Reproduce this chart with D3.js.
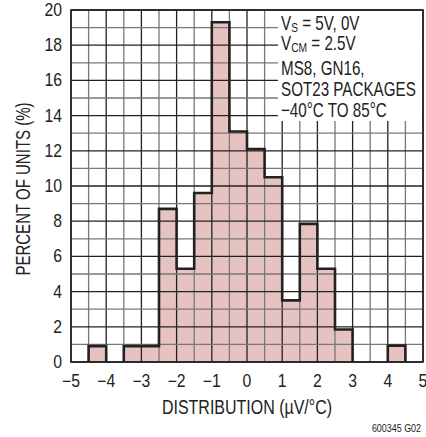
<!DOCTYPE html>
<html><head><meta charset="utf-8">
<script src="https://cdn.jsdelivr.net/npm/d3@7"></script>
<style>body{margin:0;background:#fff}svg{display:block}text{font-family:"Liberation Sans",Arial,sans-serif;fill:#222}</style>
</head><body>
<script>
const binStarts = [-5,-4.5,-4,-3.5,-3,-2.5,-2,-1.5,-1,-0.5,0,0.5,1,1.5,2,2.5,3,3.5,4,4.5];
const percents  = [0,0.9,0,0.9,0.9,8.7,5.3,9.6,19.3,13.1,12.1,10.5,3.5,7.85,5.3,1.85,0,0,0.93,0];
const xTicks = [-5,-4,-3,-2,-1,0,1,2,3,4,5];
const yTicks = [0,2,4,6,8,10,12,14,16,18,20];
const binWidth = 0.5;

const W=426,H=437;
const L=71,R=423,T=10,B=362;
const svg=d3.select("body").append("svg").attr("width",W).attr("height",H);
const x=d3.scaleLinear().domain([-5,5]).range([L,R]);
const y=d3.scaleLinear().domain([0,20]).range([B,T]);
const fill="#e6c3c0";

function ctext(parent,px,py,size,sx,anchor,rot){
  const tr=`translate(${px},${py})`+(rot?` rotate(${rot})`:"")+` scale(${sx},1)`;
  return parent.append("text").attr("transform",tr).attr("font-size",size).attr("text-anchor",anchor||"start");
}

// bars fill
svg.append("g").selectAll("rect").data(binStarts.map((s,i)=>({s,v:percents[i]})).filter(d=>d.v>0))
 .join("rect").attr("x",d=>x(d.s)).attr("width",d=>x(d.s+binWidth)-x(d.s))
 .attr("y",d=>y(d.v)).attr("height",d=>y(0)-y(d.v)).attr("fill",fill);

// grid
const g=svg.append("g");
const vx=d3.range(-5,5.01,0.5), hy=d3.range(0,20.01,1);
g.selectAll(".v").data(vx).join("line").attr("x1",d=>x(d)).attr("x2",d=>x(d)).attr("y1",T).attr("y2",B)
 .attr("stroke",d=>Number.isInteger(d)?"#222":"#777").attr("stroke-width",1.3);
g.selectAll(".h").data(hy).join("line").attr("y1",d=>y(d)).attr("y2",d=>y(d)).attr("x1",L).attr("x2",R)
 .attr("stroke",d=>d%2===0?"#222":"#777").attr("stroke-width",1.3);

// text box
svg.append("rect").attr("x",278).attr("y",T+1).attr("width",R-278-1).attr("height",121-T-1).attr("fill","#fff");

// frame
svg.append("rect").attr("x",L).attr("y",T).attr("width",R-L).attr("height",B-T).attr("fill","none").attr("stroke","#222").attr("stroke-width",1.6);

// outline
const groups=[];let cur=null;
binStarts.forEach((s,i)=>{const v=percents[i];if(v>0){if(!cur){cur=[];groups.push(cur);}cur.push({s,v});}else cur=null;});
groups.forEach(gr=>{
  let p=d3.path();p.moveTo(x(gr[0].s),y(0));
  gr.forEach(d=>{p.lineTo(x(d.s),y(d.v));p.lineTo(x(d.s+binWidth),y(d.v));});
  p.lineTo(x(gr[gr.length-1].s+binWidth),y(0));
  svg.append("path").attr("d",p.toString()).attr("fill","none").attr("stroke","#222").attr("stroke-width",2.6).attr("stroke-linejoin","miter");
});

// ticks
const yt=svg.append("g");
yTicks.forEach(d=>ctext(yt,L-9,y(d)+6,17.5,0.9,"end").text(d));
const xt=svg.append("g");
xTicks.forEach(d=>ctext(xt,x(d),387,17.5,0.9,"middle").text(d<0?"\u2212"+Math.abs(d):d));

ctext(svg,(L+R)/2,414,19.5,0.82,"middle").text("DISTRIBUTION (\u00b5V/\u00b0C)");
ctext(svg,30,(T+B)/2+3,19.5,0.77,"middle",-90).text("PERCENT OF UNITS (%)");
ctext(svg,421,432,10.5,0.85,"end").text("600345 G02");

// annotations
const ann=svg.append("g");
const lines=[[["V",""],["S","sub"],[" = 5V, 0V",""]],[["V",""],["CM","sub"],[" = 2.5V",""]],[["MS8, GN16,",""]],[["SOT23 PACKAGES",""]],[["\u221240\u00b0C TO 85\u00b0C",""]]];
const bases=[29.5,49.5,75,96,116.5];
lines.forEach((ln,i)=>{
  const t=ctext(ann,281,bases[i],20,0.76,"start");
  ln.forEach(([s,k],j)=>{const ts=t.append("tspan").text(s);
    if(k==="sub")ts.attr("font-size",13.5).attr("dy",2.5);
    else if(j>0)ts.attr("dy",-2.5);});
});
</script>
</body></html>
